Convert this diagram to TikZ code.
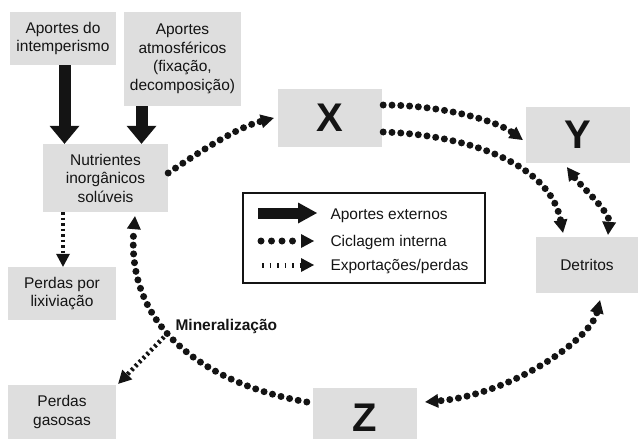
\documentclass[tikz,border=0pt]{standalone}
\usepackage{fontspec}
\setmainfont{Liberation Sans}
\usetikzlibrary{arrows.meta}
\definecolor{boxgray}{RGB}{222,222,222}
\definecolor{ink}{RGB}{20,20,20}
\begin{document}
\begin{tikzpicture}[x=1pt,y=-1pt,
 box/.style={fill=boxgray,inner sep=0pt,align=center,text=ink,font=\fontsize{15.5}{18.5}\selectfont},
 big/.style={box,font=\fontsize{40}{40}\selectfont\bfseries},
 ext/.style={draw=ink,line width=12pt,-{Triangle[length=18pt,width=30pt,line width=0pt]}},
 cyc/.style={draw=ink,line width=7pt,line cap=round,dash pattern=on 0pt off 8.8pt,-{Triangle[length=13pt,width=14pt,line width=0pt]}},
 cycb/.style={cyc,{Triangle[length=13pt,width=14pt,line width=0pt]}-{Triangle[length=13pt,width=14pt,line width=0pt]}},
 expo/.style={draw=ink,line width=4.5pt,dash pattern=on 2.5pt off 3pt,-{Triangle[length=13pt,width=14pt,line width=0pt]}},
 legtext/.style={anchor=base west,text=ink,font=\fontsize{15.5}{18.5}\selectfont},
]
\useasboundingbox (0,0) rectangle (638,439);
% boxes
\node[box,minimum width=106pt,minimum height=53pt] (intemp) at (63,38.5) {Aportes do\\intemperismo};
\node[box,minimum width=117pt,minimum height=94pt] (atmos) at (182.5,59) {Aportes\\atmosféricos\\(fixação,\\decomposição)};
\node[box,minimum width=125pt,minimum height=68pt] (nutri) at (105.5,178) {Nutrientes\\inorgânicos\\solúveis};
\node[big,minimum width=104pt,minimum height=58pt] (X) at (330,118) {X};
\node[big,minimum width=104pt,minimum height=56pt] (Y) at (578,135) {Y};
\node[box,minimum width=102pt,minimum height=56pt] (det) at (587,265) {Detritos};
\node[box,minimum width=108pt,minimum height=53pt] (lix) at (62,293.5) {Perdas por\\lixiviação};
\node[box,minimum width=108pt,minimum height=54pt] (gas) at (62,412) {Perdas\\gasosas};
\node[big,minimum width=104pt,minimum height=60pt] (Z) at (365,418) {Z};
% legend
\node[draw=ink,line width=1.3pt,minimum width=242pt,minimum height=90pt,inner sep=0pt] (leg) at (364,238) {};
\coordinate (l1a) at (258,213); \coordinate (l1b) at (317,213);
\coordinate (l2a) at (261,241); \coordinate (l2b) at (314,241);
\coordinate (l3a) at (262,265); \coordinate (l3b) at (314,265);
\draw[ext,line width=11pt,-{Triangle[length=19pt,width=21pt,line width=0pt]}] (l1a) -- (l1b);
\draw[cyc,dash pattern=on 0pt off 10.5pt] (l2a) -- (l2b);
\draw[expo,line width=5pt,dash pattern=on 1.5pt off 6pt] (l3a) -- (l3b);
\node[legtext] (t1) at (327,219) {Aportes externos};
\node[legtext] (t2) at (327,246.5) {Ciclagem interna};
\node[legtext] (t3) at (327,270) {Exportações/perdas};
% external inputs
\coordinate (a1) at ([xshift=1.5pt]intemp.south);
\coordinate (a2) at ([xshift=-41pt]atmos.south);
\draw[ext] (a1) -- (a1 |- nutri.north);
\draw[ext] (a2) -- (a2 |- nutri.north);
% losses
\draw[expo] ([xshift=-42.5pt]nutri.south) -- ([xshift=1pt]lix.north);
\node[anchor=base west,text=ink,font=\fontsize{15.5}{18.5}\selectfont\bfseries] (minl) at (172,330) {Mineralização};
\coordinate (mstart) at (164,337);
\draw[expo] (mstart) -- ([xshift=2pt,yshift=1pt]gas.north east);
% internal cycling
\draw[cyc] ([yshift=5pt]nutri.east) .. controls (195,155) and (235,128) .. ([xshift=-4pt]X.west);
\draw[cyc] ([xshift=1pt,yshift=13pt]X.east) .. controls (440,105) and (495,120) .. ([xshift=-3pt,yshift=-5pt]Y.west);
\draw[cyc] ([xshift=1pt,yshift=-14pt]X.east) .. controls (470,135) and (550,165) .. ([xshift=-24pt,yshift=4pt]det.north);
\draw[cycb] ([xshift=-11pt,yshift=-4pt]Y.south) .. controls (580,185) and (610,212) .. ([xshift=21pt,yshift=2pt]det.north);
\draw[cycb] ([xshift=13pt,yshift=-7pt]det.south) .. controls (590,340) and (510,395) .. ([xshift=8pt,yshift=16pt]Z.east);
\draw[cyc] ([xshift=-6pt,yshift=16pt]Z.west) .. controls (210,385) and (125,330) .. ([xshift=29.5pt,yshift=-4pt]nutri.south);
\end{tikzpicture}
\end{document}
